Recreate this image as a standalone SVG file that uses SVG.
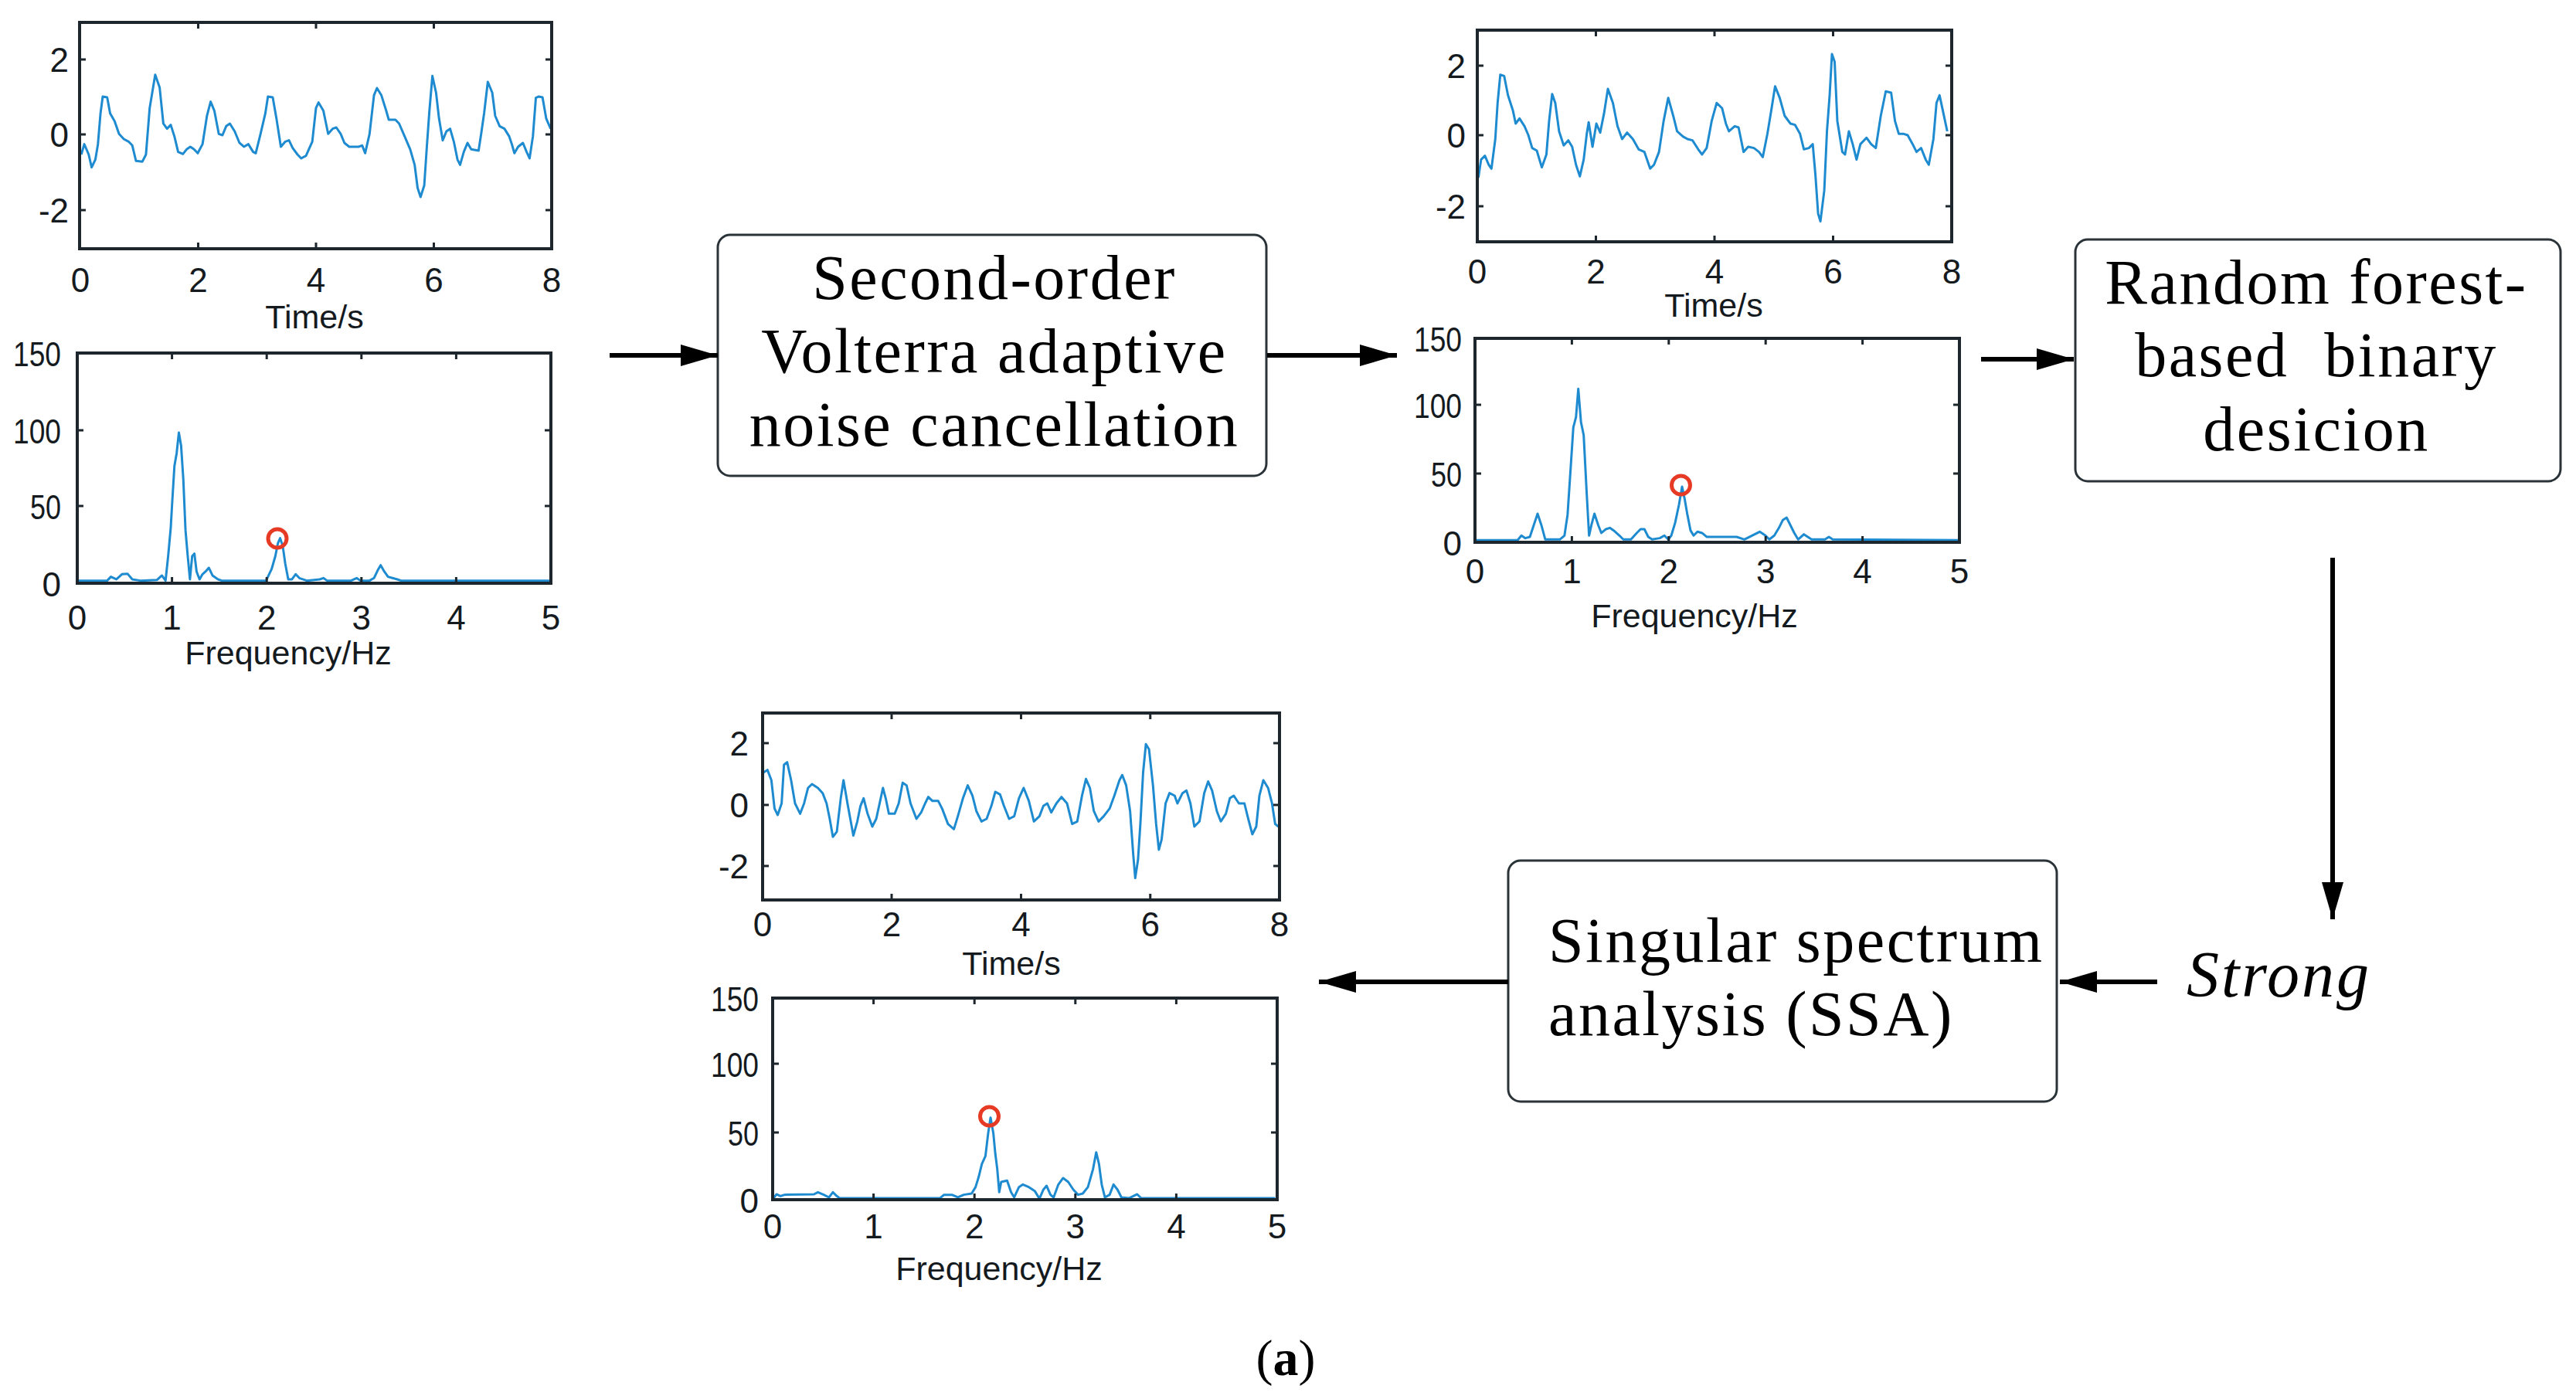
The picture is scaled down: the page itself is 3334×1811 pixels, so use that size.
<svg xmlns="http://www.w3.org/2000/svg" width="3334" height="1811" viewBox="0 0 3334 1811">
<style>
.bg{fill:#fff}
.frame{fill:none;stroke:#1c262c;stroke-width:4}
.tick{fill:none;stroke:#1c262c;stroke-width:3}
.sig{fill:none;stroke:#1e8bd0;stroke-width:3;stroke-linejoin:round}
.mark{fill:none;stroke:#e63a25;stroke-width:5}
.tl{font-family:"Liberation Sans",Arial,sans-serif;font-size:44px;fill:#141a1e}
.ax{font-family:"Liberation Sans",Arial,sans-serif;font-size:43px;fill:#141a1e;text-anchor:middle}
.node{fill:#fff;stroke:#2a3338;stroke-width:3}
.nt{font-family:"Liberation Serif","Times New Roman",serif;font-size:82px;letter-spacing:2.5px;fill:#000}
.conn{fill:none;stroke:#000;stroke-width:6}
</style>
<defs>
<marker id="ah" markerUnits="userSpaceOnUse" markerWidth="50" markerHeight="30" refX="48" refY="14" orient="auto">
<path d="M0,0 L48,14 L0,28 Z" fill="#000"/>
</marker>
</defs>
<rect class="bg" x="0" y="0" width="3334" height="1811"/>

<!-- Plot A: input time + spectrum -->
<g id="plot-a">
<path class="sig" vector-effect="non-scaling-stroke" transform="scale(0.4783,0.3333)" d="M220,600 L228,560 L240,600 L248,650 L258,620 L265,560 L272,440 L278,375 L290,378 L298,440 L310,470 L322,520 L335,540 L348,550 L358,565 L368,625 L385,628 L395,600 L405,420 L420,290 L432,340 L442,480 L452,500 L462,485 L472,530 L482,590 L495,598 L505,580 L515,570 L525,580 L535,595 L548,560 L560,450 L570,395 L580,430 L592,520 L602,525 L612,490 L622,480 L635,510 L648,555 L660,570 L672,560 L685,590 L692,595 L705,520 L718,440 L725,375 L738,378 L748,460 L760,570 L772,550 L782,545 L792,575 L805,600 L815,615 L828,605 L845,550 L855,420 L862,398 L875,430 L888,520 L900,500 L910,495 L922,520 L932,555 L945,570 L970,570 L980,565 L988,595 L1000,520 L1012,370 L1020,342 L1032,370 L1045,430 L1052,465 L1070,465 L1080,480 L1095,530 L1110,580 L1122,640 L1130,730 L1138,765 L1148,720 L1155,570 L1162,430 L1170,295 L1180,360 L1188,460 L1198,545 L1208,510 L1218,500 L1228,550 L1238,620 L1245,640 L1255,590 L1265,555 L1275,580 L1295,585 L1302,520 L1310,440 L1320,318 L1332,360 L1340,450 L1352,490 L1365,500 L1378,530 L1385,560 L1392,595 L1402,570 L1415,555 L1425,590 L1433,615 L1442,530 L1450,380 L1458,375 L1468,378 L1478,460 L1490,500"/>
<rect class="frame" x="103" y="29" width="611" height="293"/>
<path class="tick" d="M103,77h8M103,174h8M103,272h8M714,77h-8M714,174h-8M714,272h-8M256.5,29v8M409,29v8M561.5,29v8M256.5,322v-8M409,322v-8M561.5,322v-8"/>
<text class="tl" x="89" y="93" text-anchor="end">2</text>
<text class="tl" x="89" y="190" text-anchor="end">0</text>
<text class="tl" x="89" y="288" text-anchor="end">-2</text>
<text class="tl" x="104" y="378" text-anchor="middle">0</text>
<text class="tl" x="256.5" y="378" text-anchor="middle">2</text>
<text class="tl" x="409" y="378" text-anchor="middle">4</text>
<text class="tl" x="561.5" y="378" text-anchor="middle">6</text>
<text class="tl" x="714" y="378" text-anchor="middle">8</text>
<text class="ax" x="407" y="425">Time/s</text>

<path class="sig" vector-effect="non-scaling-stroke" transform="translate(0,420) scale(0.4783,0.3333)" d="M212,995 L290,995 L300,980 L315,990 L330,970 L345,968 L358,990 L380,995 L425,992 L438,975 L448,995 L455,900 L462,790 L466,690 L472,550 L478,500 L484,420 L490,470 L496,600 L502,800 L508,900 L514,990 L520,900 L526,890 L532,960 L540,990 L548,970 L556,960 L565,945 L575,975 L590,990 L600,995 L720,995 L735,950 L745,900 L752,850 L758,830 L765,860 L772,930 L780,990 L790,990 L800,970 L810,985 L830,995 L865,990 L875,985 L885,995 L950,995 L965,985 L975,995 L1000,995 L1012,985 L1022,955 L1030,935 L1040,960 L1050,980 L1062,985 L1075,990 L1085,995 L1490,995"/>
<rect class="frame" x="100" y="457" width="613" height="298"/>
<path class="tick" d="M100,557h8M100,655h8M713,557h-8M713,655h-8M222.6,457v8M345.2,457v8M467.8,457v8M590.4,457v8M222.6,755v-8M345.2,755v-8M467.8,755v-8M590.4,755v-8"/>
<circle class="mark" cx="359" cy="697" r="12"/>
<text class="tl" x="79" y="474" text-anchor="end" textLength="62" lengthAdjust="spacingAndGlyphs">150</text>
<text class="tl" x="79" y="574" text-anchor="end" textLength="62" lengthAdjust="spacingAndGlyphs">100</text>
<text class="tl" x="79" y="672" text-anchor="end" textLength="40" lengthAdjust="spacingAndGlyphs">50</text>
<text class="tl" x="79" y="772" text-anchor="end">0</text>
<text class="tl" x="100" y="815" text-anchor="middle">0</text>
<text class="tl" x="222.6" y="815" text-anchor="middle">1</text>
<text class="tl" x="345.2" y="815" text-anchor="middle">2</text>
<text class="tl" x="467.8" y="815" text-anchor="middle">3</text>
<text class="tl" x="590.4" y="815" text-anchor="middle">4</text>
<text class="tl" x="713" y="815" text-anchor="middle">5</text>
<text class="ax" x="373" y="860">Frequency/Hz</text>
</g>

<!-- Node: Volterra -->
<g id="box-volterra">
<rect class="node" x="929" y="304" width="710" height="312" rx="16"/>
<text class="nt" x="1287" y="387" text-anchor="middle">Second-order</text>
<text class="nt" x="1287" y="482" text-anchor="middle">Volterra adaptive</text>
<text class="nt" x="1287" y="577" text-anchor="middle">noise cancellation</text>
</g>

<!-- Plot B -->
<g id="plot-b">
<path class="sig" vector-effect="non-scaling-stroke" transform="translate(1800,0) scale(0.4974,0.3333)" d="M228,690 L235,620 L245,605 L255,640 L262,655 L272,540 L278,400 L285,290 L295,295 L305,370 L318,430 L325,480 L335,460 L348,490 L358,525 L368,575 L380,585 L393,650 L405,600 L412,470 L420,365 L428,400 L438,510 L450,565 L462,545 L472,570 L482,640 L492,685 L502,620 L510,520 L515,475 L525,570 L535,480 L545,515 L555,440 L565,345 L578,400 L590,490 L602,540 L615,515 L630,540 L645,580 L660,590 L675,655 L685,640 L698,590 L710,470 L722,380 L735,450 L745,510 L760,530 L772,540 L785,545 L800,580 L810,600 L822,575 L835,470 L848,400 L862,420 L872,480 L880,510 L895,490 L905,495 L918,590 L930,570 L945,575 L958,590 L968,610 L980,520 L990,430 L1000,335 L1012,380 L1025,450 L1040,480 L1052,485 L1065,520 L1075,580 L1088,575 L1098,560 L1105,680 L1112,830 L1118,860 L1128,740 L1135,510 L1142,370 L1148,210 L1155,240 L1162,470 L1175,590 L1182,600 L1192,510 L1202,560 L1212,620 L1222,560 L1238,535 L1250,560 L1262,575 L1275,450 L1288,355 L1302,360 L1312,470 L1322,520 L1335,520 L1345,525 L1358,560 L1368,590 L1380,575 L1392,620 L1400,640 L1412,540 L1420,400 L1428,370 L1438,440 L1448,510"/>
<rect class="frame" x="1912" y="39" width="614" height="274"/>
<path class="tick" d="M1912,85h8M1912,175h8M1912,267h8M2526,85h-8M2526,175h-8M2526,267h-8M2065.5,39v8M2219,39v8M2372.5,39v8M2065.5,313v-8M2219,313v-8M2372.5,313v-8"/>
<text class="tl" x="1897" y="101" text-anchor="end">2</text>
<text class="tl" x="1897" y="191" text-anchor="end">0</text>
<text class="tl" x="1897" y="283" text-anchor="end">-2</text>
<text class="tl" x="1912" y="367" text-anchor="middle">0</text>
<text class="tl" x="2065.5" y="367" text-anchor="middle">2</text>
<text class="tl" x="2219" y="367" text-anchor="middle">4</text>
<text class="tl" x="2372.5" y="367" text-anchor="middle">6</text>
<text class="tl" x="2526" y="367" text-anchor="middle">8</text>
<text class="ax" x="2218" y="410">Time/s</text>

<path class="sig" vector-effect="non-scaling-stroke" transform="translate(1800,400) scale(0.4974,0.3333)" d="M222,898 L330,898 L340,880 L350,890 L362,885 L372,840 L382,795 L392,840 L402,895 L440,895 L452,880 L460,800 L468,620 L475,460 L482,420 L488,310 L495,440 L502,490 L510,720 L516,880 L522,840 L530,795 L540,840 L548,870 L560,855 L570,850 L580,860 L595,880 L605,895 L625,895 L640,870 L650,855 L660,855 L670,885 L680,895 L700,890 L712,880 L722,895 L730,880 L740,830 L750,760 L758,690 L765,740 L772,800 L780,860 L788,880 L798,865 L810,870 L822,885 L840,885 L870,885 L900,885 L920,895 L940,880 L960,865 L975,880 L985,895 L998,880 L1010,850 L1020,820 L1030,810 L1040,840 L1050,870 L1060,895 L1075,875 L1085,885 L1095,895 L1130,895 L1140,885 L1150,895 L1480,898"/>
<rect class="frame" x="1909" y="438" width="627" height="264"/>
<path class="tick" d="M1909,524h8M1909,613h8M2536,524h-8M2536,613h-8M2034.4,438v8M2159.8,438v8M2285.2,438v8M2410.6,438v8M2034.4,702v-8M2159.8,702v-8M2285.2,702v-8M2410.6,702v-8"/>
<circle class="mark" cx="2175.5" cy="628" r="12"/>
<text class="tl" x="1892" y="455" text-anchor="end" textLength="62" lengthAdjust="spacingAndGlyphs">150</text>
<text class="tl" x="1892" y="541" text-anchor="end" textLength="62" lengthAdjust="spacingAndGlyphs">100</text>
<text class="tl" x="1892" y="630" text-anchor="end" textLength="40" lengthAdjust="spacingAndGlyphs">50</text>
<text class="tl" x="1892" y="719" text-anchor="end">0</text>
<text class="tl" x="1909" y="755" text-anchor="middle">0</text>
<text class="tl" x="2034.4" y="755" text-anchor="middle">1</text>
<text class="tl" x="2159.8" y="755" text-anchor="middle">2</text>
<text class="tl" x="2285.2" y="755" text-anchor="middle">3</text>
<text class="tl" x="2410.6" y="755" text-anchor="middle">4</text>
<text class="tl" x="2536" y="755" text-anchor="middle">5</text>
<text class="ax" x="2193" y="812">Frequency/Hz</text>
</g>

<!-- Node: Random forest -->
<g id="box-rf">
<rect class="node" x="2686" y="310" width="628" height="313" rx="16"/>
<text class="nt" x="2998" y="393" text-anchor="middle">Random forest-</text>
<text class="nt" x="2998" y="487" text-anchor="middle" xml:space="preserve">based  binary</text>
<text class="nt" x="2998" y="583" text-anchor="middle">desicion</text>
</g>

<!-- Label: Strong -->
<g id="label-strong">
<text x="2830" y="1290" font-family="Liberation Serif,'Times New Roman',serif" font-size="84" font-style="italic" letter-spacing="3" fill="#000">Strong</text>
</g>

<!-- Node: SSA -->
<g id="box-ssa">
<rect class="node" x="1952" y="1114" width="710" height="312" rx="16"/>
<text class="nt" x="2004" y="1245">Singular spectrum</text>
<text class="nt" x="2004" y="1340">analysis (SSA)</text>
</g>

<!-- Plot C -->
<g id="plot-c">
<path class="sig" vector-effect="non-scaling-stroke" transform="translate(880,900) scale(0.5102,0.3333)" d="M212,300 L222,290 L232,330 L240,440 L248,465 L258,420 L264,270 L272,260 L282,330 L292,420 L305,460 L315,420 L325,360 L335,345 L350,360 L362,380 L372,420 L380,480 L388,550 L398,530 L408,400 L415,330 L425,420 L440,545 L450,490 L458,430 L466,400 L476,460 L488,510 L498,480 L508,410 L515,360 L522,400 L530,460 L545,460 L555,420 L565,340 L575,350 L585,420 L600,480 L612,455 L622,420 L630,395 L640,410 L655,410 L665,440 L680,500 L695,520 L705,470 L718,400 L730,350 L742,390 L752,450 L765,490 L778,480 L790,430 L800,375 L812,385 L822,430 L835,480 L848,470 L860,400 L872,360 L885,410 L898,490 L912,470 L922,430 L932,420 L942,455 L955,420 L968,395 L982,420 L995,500 L1008,490 L1020,390 L1030,325 L1040,360 L1050,450 L1062,490 L1075,470 L1090,440 L1102,390 L1115,330 L1122,310 L1132,350 L1142,450 L1150,620 L1155,710 L1162,640 L1168,500 L1175,300 L1182,190 L1190,210 L1200,350 L1208,500 L1215,600 L1222,560 L1232,420 L1242,380 L1255,390 L1262,420 L1275,380 L1285,370 L1295,420 L1305,510 L1318,490 L1330,380 L1340,335 L1350,370 L1362,450 L1372,490 L1385,460 L1395,400 L1405,390 L1418,420 L1432,420 L1440,470 L1452,540 L1462,510 L1470,390 L1480,330 L1492,360 L1502,420 L1510,500 L1518,510"/>
<rect class="frame" x="987" y="923" width="669" height="242"/>
<path class="tick" d="M987,962h8M987,1042h8M987,1121h8M1656,962h-8M1656,1042h-8M1656,1121h-8M1154,923v8M1321.5,923v8M1488.75,923v8M1154,1165v-8M1321.5,1165v-8M1488.75,1165v-8"/>
<text class="tl" x="969" y="978" text-anchor="end">2</text>
<text class="tl" x="969" y="1058" text-anchor="end">0</text>
<text class="tl" x="969" y="1137" text-anchor="end">-2</text>
<text class="tl" x="987" y="1212" text-anchor="middle">0</text>
<text class="tl" x="1154" y="1212" text-anchor="middle">2</text>
<text class="tl" x="1321.5" y="1212" text-anchor="middle">4</text>
<text class="tl" x="1488.75" y="1212" text-anchor="middle">6</text>
<text class="tl" x="1656" y="1212" text-anchor="middle">8</text>
<text class="ax" x="1309" y="1262">Time/s</text>

<path class="sig" vector-effect="non-scaling-stroke" transform="translate(880,1260) scale(0.5102,0.3333)" d="M238,873 L245,858 L255,865 L265,860 L340,858 L350,850 L365,860 L378,870 L388,850 L398,865 L405,873 L660,873 L670,860 L690,860 L705,870 L720,860 L740,855 L750,830 L758,790 L766,740 L775,710 L782,620 L788,560 L795,620 L800,700 L805,760 L810,850 L815,810 L830,805 L840,850 L848,870 L860,830 L870,820 L885,830 L900,845 L912,875 L922,840 L930,825 L940,860 L948,870 L960,820 L972,795 L985,810 L998,840 L1010,860 L1022,855 L1035,830 L1048,760 L1056,695 L1063,740 L1070,820 L1078,870 L1090,860 L1100,820 L1110,840 L1120,870 L1140,873 L1160,858 L1170,873 L1510,873"/>
<rect class="frame" x="1000" y="1292" width="653" height="261"/>
<path class="tick" d="M1000,1377h8M1000,1466h8M1653,1377h-8M1653,1466h-8M1130.6,1292v8M1261.2,1292v8M1391.8,1292v8M1522.4,1292v8M1130.6,1553v-8M1261.2,1553v-8M1391.8,1553v-8M1522.4,1553v-8"/>
<circle class="mark" cx="1280.5" cy="1445" r="12"/>
<text class="tl" x="982" y="1309" text-anchor="end" textLength="62" lengthAdjust="spacingAndGlyphs">150</text>
<text class="tl" x="982" y="1394" text-anchor="end" textLength="62" lengthAdjust="spacingAndGlyphs">100</text>
<text class="tl" x="982" y="1483" text-anchor="end" textLength="40" lengthAdjust="spacingAndGlyphs">50</text>
<text class="tl" x="982" y="1570" text-anchor="end">0</text>
<text class="tl" x="1000" y="1603" text-anchor="middle">0</text>
<text class="tl" x="1130.6" y="1603" text-anchor="middle">1</text>
<text class="tl" x="1261.2" y="1603" text-anchor="middle">2</text>
<text class="tl" x="1391.8" y="1603" text-anchor="middle">3</text>
<text class="tl" x="1522.4" y="1603" text-anchor="middle">4</text>
<text class="tl" x="1653" y="1603" text-anchor="middle">5</text>
<text class="ax" x="1293" y="1657">Frequency/Hz</text>
</g>

<!-- Connectors -->
<g id="connectors">
<line class="conn" x1="789" y1="460" x2="929" y2="460" marker-end="url(#ah)"/>
<line class="conn" x1="1640" y1="460" x2="1808" y2="460" marker-end="url(#ah)"/>
<line class="conn" x1="2564" y1="465" x2="2684" y2="465" marker-end="url(#ah)"/>
<line class="conn" x1="3019" y1="722" x2="3019" y2="1190" stroke-width="5" marker-end="url(#ah)"/>
<line class="conn" x1="2792" y1="1271" x2="2666" y2="1271" marker-end="url(#ah)"/>
<line class="conn" x1="1952" y1="1271" x2="1707" y2="1271" marker-end="url(#ah)"/>
</g>

<!-- Caption -->
<g id="caption">
<text x="1664" y="1780" text-anchor="middle" font-family="Liberation Serif,'Times New Roman',serif" font-size="66" fill="#000">(<tspan font-weight="bold">a</tspan>)</text>
</g>
</svg>
